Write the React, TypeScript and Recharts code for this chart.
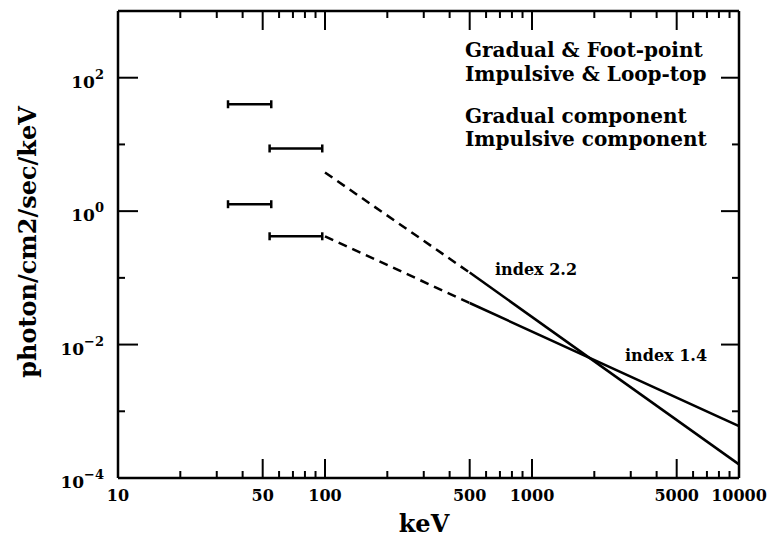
import React from 'react';
import { ComposedChart, Line, XAxis, YAxis } from 'recharts';

// axis ticks
const xTicks = [
  10, 20, 30, 40, 50, 60, 70, 80, 90,
  100, 200, 300, 400, 500, 600, 700, 800, 900,
  1000, 2000, 3000, 4000, 5000, 6000, 7000, 8000, 9000, 10000,
];
const xMajorTicks = [50, 100, 500, 1000, 5000];
const xTickLabels = [10, 50, 100, 500, 1000, 5000, 10000];
const yTicks = [1e-4, 1e-3, 1e-2, 1e-1, 1, 10, 100, 1000];
const yLabelExponents = [-4, -2, 0, 2];

// low-energy flux bands (keV range, photon/cm2/sec/keV)
const footPointLow = [{ x: 34, y: 40 }, { x: 55, y: 40 }];
const footPointHigh = [{ x: 54, y: 8.7 }, { x: 97, y: 8.7 }];
const loopTopLow = [{ x: 34, y: 1.27 }, { x: 55, y: 1.27 }];
const loopTopHigh = [{ x: 54, y: 0.42 }, { x: 97, y: 0.42 }];

// power-law components
const steepDashed = [{ x: 100, y: 3.8 }, { x: 500, y: 0.12 }];
const steepSolid = [{ x: 500, y: 0.12 }, { x: 10000, y: 1.6e-4 }];
const flatDashed = [{ x: 100, y: 0.42 }, { x: 500, y: 0.042 }];
const flatSolid = [{ x: 500, y: 0.042 }, { x: 10000, y: 6e-4 }];

const FONT = '"DejaVu Serif", serif';
const W = 770;
const H = 537;

const CapDot = (props: any) => {
  const { cx, cy, index } = props;
  if (cx == null || cy == null) return <g key={index} />;
  return <line key={index} x1={cx} x2={cx} y1={cy - 4} y2={cy + 4} stroke="#000" strokeWidth={2.5} />;
};

const BottomTick = (props: any) => {
  const { x, y, payload } = props;
  const v = payload.value;
  const len = xMajorTicks.includes(v) ? 19 : 7;
  return (
    <g>
      <line x1={x} x2={x} y1={y} y2={y - len} stroke="#000" strokeWidth={2} />
      {xTickLabels.includes(v) && (
        <text x={x} y={y + 23} textAnchor="middle" fontFamily={FONT} fontWeight="bold" fontSize={16} fill="#000">
          {v}
        </text>
      )}
    </g>
  );
};

const TopTick = (props: any) => {
  const { x, y, payload } = props;
  const len = xMajorTicks.includes(payload.value) ? 19 : 7;
  return <line x1={x} x2={x} y1={y} y2={y + len} stroke="#000" strokeWidth={2} />;
};

const expOf = (v: number) => Math.round(Math.log10(v));

const LeftTick = (props: any) => {
  const { x, y, payload } = props;
  const e = expOf(payload.value);
  const labeled = yLabelExponents.includes(e);
  return (
    <g>
      <line x1={x} x2={x + (labeled ? 20 : 7)} y1={y} y2={y} stroke="#000" strokeWidth={2} />
      {labeled && (
        <text x={x - 14} y={y + 10} textAnchor="end" fontFamily={FONT} fontWeight="bold" fontSize={17} fill="#000">
          <tspan>10</tspan>
          <tspan dy={-9} fontSize={13}>{e < 0 ? '\u2212' + Math.abs(e) : String(e)}</tspan>
        </text>
      )}
    </g>
  );
};

const RightTick = (props: any) => {
  const { x, y, payload } = props;
  const len = yLabelExponents.includes(expOf(payload.value)) ? 18 : 7;
  return <line x1={x} x2={x - len} y1={y} y2={y} stroke="#000" strokeWidth={2} />;
};

const axisLine = { stroke: '#000', strokeWidth: 2.5 };

export default function App() {
  const bar = (data: { x: number; y: number }[], key: string) => (
    <Line
      key={key}
      data={data}
      dataKey="y"
      type="linear"
      stroke="#000"
      strokeWidth={2.5}
      dot={(p: any) => <CapDot {...p} key={key + p.index} />}
      activeDot={false}
      isAnimationActive={false}
      legendType="none"
    />
  );
  const powerLaw = (data: { x: number; y: number }[], key: string, dashed: boolean) => (
    <Line
      key={key}
      data={data}
      dataKey="y"
      type="linear"
      stroke="#000"
      strokeWidth={2.5}
      strokeDasharray={dashed ? '9 6' : undefined}
      dot={false}
      activeDot={false}
      isAnimationActive={false}
      legendType="none"
    />
  );

  return (
    <div style={{ position: 'absolute', left: 0, top: 0, width: W, height: H, background: '#fff' }}>
      <ComposedChart width={W} height={H} margin={{ top: 10, right: 1, bottom: 0, left: 0 }}>
        <XAxis
          dataKey="x"
          type="number"
          scale="log"
          domain={[10, 10000]}
          allowDataOverflow
          ticks={xTicks}
          interval={0}
          height={59}
          tickSize={0}
          tickMargin={0}
          axisLine={axisLine}
          tickLine={false}
          tick={(p: any) => <BottomTick {...p} />}
        />
        <XAxis
          xAxisId="top"
          orientation="top"
          dataKey="x"
          type="number"
          scale="log"
          domain={[10, 10000]}
          allowDataOverflow
          ticks={xTicks}
          interval={0}
          height={1}
          tickSize={0}
          tickMargin={0}
          axisLine={axisLine}
          tickLine={false}
          tick={(p: any) => <TopTick {...p} />}
        />
        <YAxis
          type="number"
          scale="log"
          domain={[1e-4, 1000]}
          allowDataOverflow
          ticks={yTicks}
          interval={0}
          width={118}
          tickSize={0}
          tickMargin={0}
          axisLine={axisLine}
          tickLine={false}
          tick={(p: any) => <LeftTick {...p} />}
        />
        <YAxis
          yAxisId="right"
          orientation="right"
          type="number"
          scale="log"
          domain={[1e-4, 1000]}
          allowDataOverflow
          ticks={yTicks}
          interval={0}
          width={30}
          tickSize={0}
          tickMargin={0}
          axisLine={axisLine}
          tickLine={false}
          tick={(p: any) => <RightTick {...p} />}
        />
        {bar(footPointLow, 'fpl')}
        {bar(footPointHigh, 'fph')}
        {bar(loopTopLow, 'ltl')}
        {bar(loopTopHigh, 'lth')}
        {powerLaw(steepDashed, 'sd', true)}
        {powerLaw(steepSolid, 'ss', false)}
        {powerLaw(flatDashed, 'fd', true)}
        {powerLaw(flatSolid, 'fs', false)}
      </ComposedChart>
      <svg
        width={W}
        height={H}
        style={{ position: 'absolute', left: 0, top: 0, pointerEvents: 'none' }}
        fontFamily={FONT}
        fontWeight="bold"
        fill="#000"
      >
        <text x={465} y={57} fontSize={20}>Gradual &amp; Foot-point</text>
        <text x={465} y={81} fontSize={20}>Impulsive &amp; Loop-top</text>
        <text x={465} y={123} fontSize={20}>Gradual component</text>
        <text x={465} y={146} fontSize={20}>Impulsive component</text>
        <text x={495} y={275} fontSize={16}>index 2.2</text>
        <text x={625} y={361} fontSize={16}>index 1.4</text>
        <text x={424} y={532} fontSize={24} textAnchor="middle">keV</text>
        <text x={36} y={242} fontSize={24} textAnchor="middle" transform="rotate(-90 36 242)">
          photon/cm2/sec/keV
        </text>
      </svg>
    </div>
  );
}
